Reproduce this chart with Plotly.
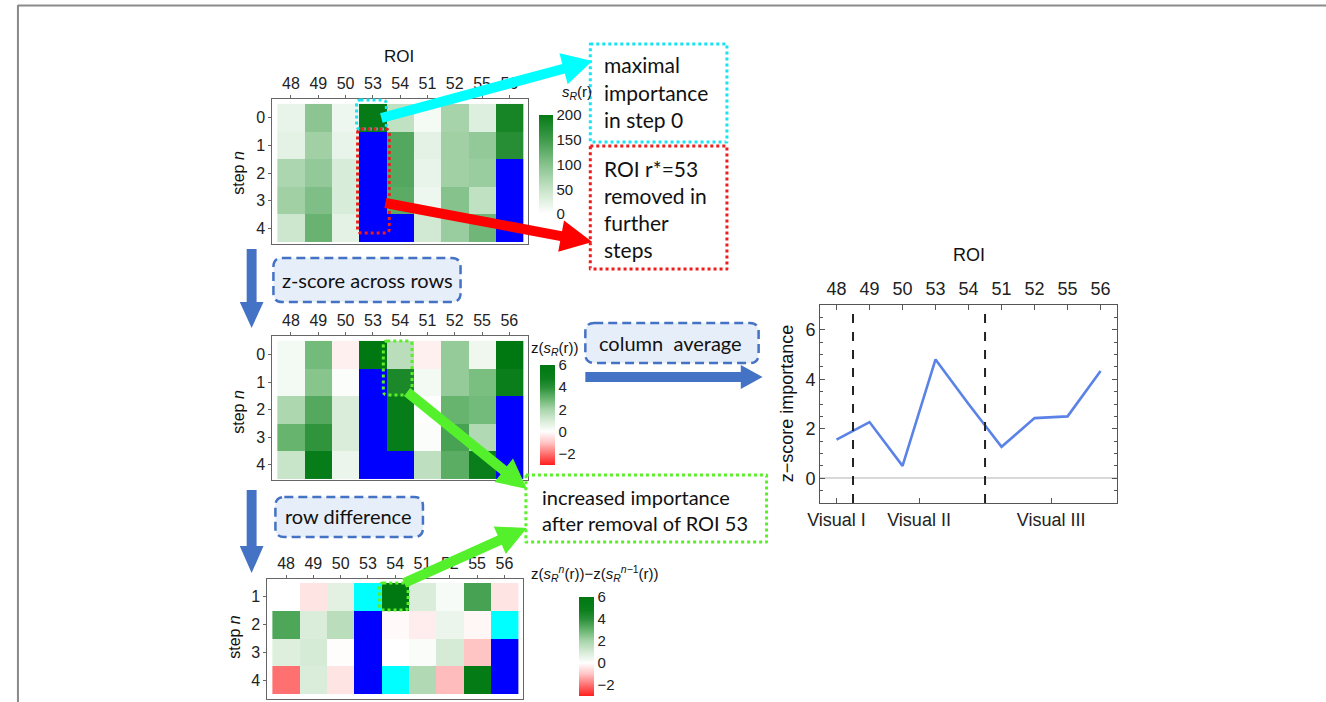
import math
import plotly.graph_objects as go

W, H = 1326, 702

# ---------------- data ----------------
rois = ["48", "49", "50", "53", "54", "51", "52", "55", "56"]
steps_top = [0, 1, 2, 3, 4]
steps_diff = [1, 2, 3, 4]

# importance s_R(r) per step (None = ROI removed)
sr_step0 = [20, 95, 15, 200, 55, 10, 75, 30, 185]
sr_step1 = [25, 80, 20, None, 135, 25, 80, 90, 170]
sr_step2 = [70, 90, 35, None, 135, 20, 80, 85, None]
sr_step3 = [80, 105, 35, None, 130, 15, 100, 55, None]
sr_step4 = [45, 120, 25, None, None, 40, 85, 115, None]

# z-scored importance per step
z_step0 = [0.3, 2.8, -0.25, 6.0, 1.6, -0.25, 2.3, 0.4, 6.0]
z_step1 = [0.3, 2.5, 0.1, None, 4.4, 0.3, 2.3, 2.7, 4.9]
z_step2 = [1.9, 3.3, 0.9, None, 5.2, 0.05, 3.0, 2.8, None]
z_step3 = [3.0, 3.9, 0.9, None, 5.2, 0.1, 3.5, 1.8, None]
z_step4 = [1.3, 5.2, 0.5, None, None, 1.5, 3.2, 4.9, None]

# row difference z(s^n) - z(s^(n-1))
d_step1 = [0.0, -0.45, 0.7, None, 6.0, 0.9, 0.2, 3.5, -0.45]
d_step2 = [3.4, 0.9, 1.6, None, -0.1, -0.3, 0.5, -0.15, None]
d_step3 = [0.8, 1.0, -0.05, None, 0.0, 0.15, 1.0, -1.0, None]
d_step4 = [-2.0, 0.9, -0.45, None, None, 1.8, -1.1, 5.5, None]

# column average of z-scores
zscore_importance = [1.56, 2.27, 0.5, 4.8, 3.0, 1.27, 2.43, 2.5, 4.33]
region_labels = ["Visual I", "Visual II", "Visual III"]
region_ticks = [0, 2.5, 6.5]
region_bounds = [0.5, 4.5]

sr = [sr_step0, sr_step1, sr_step2, sr_step3, sr_step4]
zs = [z_step0, z_step1, z_step2, z_step3, z_step4]
ds = [d_step1, d_step2, d_step3, d_step4]
cols = list(range(len(rois)))

# removed masks: 0 -> already removed (blue), 1 -> removed in this step (cyan)
mask_top = [[0 if v is None else None for v in row] for row in sr]
mask_mid = [[0 if v is None else None for v in row] for row in zs]
mask_diff = []
for n in range(1, len(zs)):
    row = []
    for j in cols:
        if zs[n][j] is None and zs[n - 1][j] is not None:
            row.append(1)
        elif zs[n][j] is None:
            row.append(0)
        else:
            row.append(None)
    mask_diff.append(row)

# ---------------- helpers ----------------
def px(x):
    return x / W

def py(y):
    return 1 - y / H

FONT = "Liberation Sans"
TFONT = "Lato"

SR_SCALE = [[0, "#ffffff"], [0.25, "#c6e4c8"], [0.5, "#86c28c"],
            [0.75, "#3f9b4b"], [1, "#067a16"]]
Z_SCALE = [[0, "#ff1e1e"], [1 / 9, "#ff7070"], [2 / 9, "#ffc4c4"],
           [3 / 9, "#ffffff"], [4 / 9, "#d6ebd6"], [5 / 9, "#a8d5aa"],
           [6 / 9, "#66b46e"], [7 / 9, "#2a9038"], [7.8 / 9, "#0b7f1c"],
           [1, "#007812"]]
BLUE_SCALE = [[0, "#0000ff"], [0.5, "#0000ff"], [0.5, "#00ffff"], [1, "#00ffff"]]

fig = go.Figure()

def colorbar(xl, yc, ln, th, tv, tt):
    return dict(x=px(xl), xanchor="left", y=py(yc), yanchor="middle",
                len=ln, lenmode="pixels", thickness=th, thicknessmode="pixels",
                xpad=0, ypad=0, outlinewidth=0, ticks="",
                tickvals=tv, ticktext=tt,
                tickfont=dict(family=FONT, size=15, color="#222"))

zt = [-2, 0, 2, 4, 6]
ztt = ["\u22122", "0", "2", "4", "6"]

# top heatmap
fig.add_trace(go.Heatmap(z=sr, x=cols, y=steps_top, colorscale=SR_SCALE,
                         zmin=0, zmax=200, xaxis="x", yaxis="y",
                         colorbar=colorbar(531, 164.5, 99, 14,
                                           [0, 50, 100, 150, 200],
                                           ["0", "50", "100", "150", "200"]),
                         hoverinfo="skip"))
fig.add_trace(go.Heatmap(z=mask_top, x=cols, y=steps_top, colorscale=BLUE_SCALE,
                         zmin=0, zmax=1, showscale=False, xaxis="x", yaxis="y",
                         hoverinfo="skip"))
# middle heatmap
fig.add_trace(go.Heatmap(z=zs, x=cols, y=steps_top, colorscale=Z_SCALE,
                         zmin=-3, zmax=6, xaxis="x2", yaxis="y2",
                         colorbar=colorbar(532, 415, 100, 15, zt, ztt),
                         hoverinfo="skip"))
fig.add_trace(go.Heatmap(z=mask_mid, x=cols, y=steps_top, colorscale=BLUE_SCALE,
                         zmin=0, zmax=1, showscale=False, xaxis="x2", yaxis="y2",
                         hoverinfo="skip"))
# bottom heatmap
fig.add_trace(go.Heatmap(z=ds, x=cols, y=steps_diff, colorscale=Z_SCALE,
                         zmin=-3, zmax=6, xaxis="x3", yaxis="y3",
                         colorbar=colorbar(572, 646.5, 99, 15, zt, ztt),
                         hoverinfo="skip"))
fig.add_trace(go.Heatmap(z=mask_diff, x=cols, y=steps_diff, colorscale=BLUE_SCALE,
                         zmin=0, zmax=1, showscale=False, xaxis="x3", yaxis="y3",
                         hoverinfo="skip"))

# line chart
fig.add_trace(go.Scatter(x=cols, y=zscore_importance, mode="lines",
                         line=dict(color="#5b82e6", width=2.6),
                         xaxis="x4", yaxis="y4", hoverinfo="skip"))
fig.add_trace(go.Scatter(x=cols, y=[None] * len(cols), mode="lines",
                         xaxis="x5", yaxis="y4", hoverinfo="skip", showlegend=False))

def hm_x(x0, x1, anchor, rng):
    return dict(domain=[px(x0), px(x1)], range=rng, side="top",
                tickmode="array", tickvals=cols, ticktext=rois,
                ticks="outside", ticklen=3, tickcolor="#666",
                showline=True, linecolor="#666", linewidth=1, mirror=True,
                showgrid=False, zeroline=False, anchor=anchor,
                tickfont=dict(family=FONT, size=16, color="#222"))

def hm_y(y0, y1, anchor, rng, vals):
    return dict(domain=[py(y1), py(y0)], range=rng,
                tickmode="array", tickvals=vals,
                ticks="outside", ticklen=3, tickcolor="#666",
                showline=True, linecolor="#666", linewidth=1, mirror=True,
                showgrid=False, zeroline=False, anchor=anchor,
                tickfont=dict(family=FONT, size=16, color="#222"))

layout = dict(
    width=W, height=H, margin=dict(l=0, r=0, t=0, b=0),
    paper_bgcolor="white", plot_bgcolor="white", showlegend=False,
    xaxis=hm_x(262, 520, "y", [-0.68, 8.68]),
    yaxis=hm_y(99, 244, "x", [4.57, -0.68], steps_top),
    xaxis2=hm_x(262, 520, "y2", [-0.68, 8.68]),
    yaxis2=hm_y(336, 480, "x2", [4.55, -0.68], steps_top),
    xaxis3=hm_x(257, 515, "y3", [-0.68, 8.68]),
    yaxis3=hm_y(579, 699, "x3", [4.68, 0.356], steps_diff),
    xaxis4=dict(domain=[px(815), px(1115)], range=[-0.5, 8.5], anchor="y4",
                tickmode="array", tickvals=region_ticks, ticktext=region_labels,
                ticks="inside", ticklen=5, tickcolor="#555",
                showline=True, linecolor="#555", linewidth=1, mirror=True,
                showgrid=False, zeroline=False,
                tickfont=dict(family=FONT, size=18, color="#222")),
    xaxis5=dict(overlaying="x4", side="top", range=[-0.5, 8.5], anchor="y4",
                tickmode="array", tickvals=cols, ticktext=rois,
                ticks="inside", ticklen=5, tickcolor="#555", ticklabelstandoff=5,
                showline=False, showgrid=False, zeroline=False,
                tickfont=dict(family=FONT, size=18, color="#222")),
    yaxis4=dict(domain=[py(503), py(305)], range=[-1, 7], anchor="x4",
                tickmode="array", tickvals=[0, 2, 4, 6],
                ticks="inside", ticklen=5, tickcolor="#555",
                minor=dict(ticks="inside", ticklen=3, dtick=0.5, tickcolor="#555"),
                showline=True, linecolor="#555", linewidth=1, mirror="ticks",
                showgrid=False, zeroline=True, zerolinecolor="#d8d8d8",
                zerolinewidth=1.5,
                tickfont=dict(family=FONT, size=18, color="#222")),
)
fig.update_layout(**layout)

shapes = []
annos = []

def P(x, y):
    return f"{px(x):.5f},{py(y):.5f}"

def arrow(x0, y0, x1, y1, sw, hw, hl, color):
    dx, dy = x1 - x0, y1 - y0
    L = math.hypot(dx, dy)
    ux, uy = dx / L, dy / L
    nx, ny = -uy, ux
    bx, by = x1 - ux * hl, y1 - uy * hl
    pts = [(x0 + nx * sw / 2, y0 + ny * sw / 2), (bx + nx * sw / 2, by + ny * sw / 2),
           (bx + nx * hw / 2, by + ny * hw / 2), (x1, y1),
           (bx - nx * hw / 2, by - ny * hw / 2), (bx - nx * sw / 2, by - ny * sw / 2),
           (x0 - nx * sw / 2, y0 - ny * sw / 2)]
    path = "M " + " L ".join(P(a, b) for a, b in pts) + " Z"
    shapes.append(dict(type="path", path=path, xref="paper", yref="paper",
                       fillcolor=color, line=dict(width=0), layer="above"))

def rrect(x0, y0, x1, y1, r, line, fill=None, dash="dot", width=3):
    path = (f"M {P(x0 + r, y0)} L {P(x1 - r, y0)} Q {P(x1, y0)} {P(x1, y0 + r)} "
            f"L {P(x1, y1 - r)} Q {P(x1, y1)} {P(x1 - r, y1)} "
            f"L {P(x0 + r, y1)} Q {P(x0, y1)} {P(x0, y1 - r)} "
            f"L {P(x0, y0 + r)} Q {P(x0, y0)} {P(x0 + r, y0)} Z")
    d = dict(type="path", path=path, xref="paper", yref="paper",
             line=dict(color=line, width=width, dash=dash), layer="above")
    d["fillcolor"] = fill if fill else "rgba(0,0,0,0)"
    shapes.append(d)

def text(x, y, s, size=21, family=TFONT, xanchor="left", angle=0, color="#111"):
    annos.append(dict(x=px(x), y=py(y), xref="paper", yref="paper", text=s,
                      showarrow=False, xanchor=xanchor, yanchor="middle",
                      textangle=angle, borderpad=0,
                      font=dict(family=family, size=size, color=color)))

# outer border
shapes.append(dict(type="line", xref="paper", yref="paper", x0=px(5), y0=py(5.5),
                   x1=px(1326), y1=py(5.5), line=dict(color="#8a8a8a", width=2)))
shapes.append(dict(type="line", xref="paper", yref="paper", x0=px(5), y0=py(5),
                   x1=px(5), y1=py(702), line=dict(color="#8a8a8a", width=2)))

# region boundaries in line chart
for b in region_bounds:
    shapes.append(dict(type="line", xref="x4", yref="y4 domain", x0=b, x1=b,
                       y0=0, y1=1, line=dict(color="#222", width=2, dash="dash")))

# blue flow arrows
BLUE = "#4472c4"
arrow(241, 249, 241, 328, 10, 24, 26, BLUE)
arrow(241, 490, 241, 573, 10, 24, 27, BLUE)
arrow(578, 377, 757, 377, 10, 24, 22, BLUE)

# dashed rounded label boxes
LB = "#e6eef9"
rrect(263, 258, 452, 302, 9, BLUE, LB, dash="9px,5px", width=2.5)
rrect(578, 323, 753, 363, 9, BLUE, LB, dash="9px,5px", width=2.5)
rrect(265, 497, 414, 537, 9, BLUE, LB, dash="9px,5px", width=2.5)
text(358, 280, "z-score across rows", size=20, xanchor="center")
text(664, 343, "column\u00a0\u00a0average", size=20, xanchor="center")
text(339, 516, "row difference", size=20, xanchor="center")

# dotted callout boxes
CY, RD, GR = "#16e4f2", "#ee1c1c", "#5bef2a"
rrect(583, 44, 721, 142, 0.01, CY)
rrect(583, 146, 721, 269, 0.01, RD)
rrect(518, 475, 761, 542, 0.01, GR)
rrect(347, 100, 377, 129, 4, CY)
rrect(348, 129, 380, 233, 4, RD)
rrect(374, 341, 403, 395, 4, GR)
rrect(370, 583, 399, 610, 4, GR)

# callout arrows
arrow(372, 118, 585, 61, 10, 32, 30, "#00ffff")
arrow(376, 203, 585, 242, 10, 32, 32, "#ff0000")
arrow(398, 392, 519, 489, 10, 30, 30, "#55f02c")
arrow(395, 583, 519, 528, 10, 30, 30, "#55f02c")

for i, s in enumerate(["maximal", "importance", "in step 0"]):
    text(596, 65 + 27 * i, s)
for i, s in enumerate(["ROI r*=53", "removed in", "further", "steps"]):
    text(596, 168 + 27 * i, s)
for i, s in enumerate(["increased importance", "after removal of ROI 53"]):
    text(533, 497 + 26 * i, s, size=20)

# axis / colorbar titles
text(390, 56, "ROI", size=17, family=FONT, xanchor="center")
text(965, 255, "ROI", size=18, family=FONT, xanchor="center")
text(782, 403, "z\u2212score importance", size=18, family=FONT, xanchor="center", angle=-90)
text(228, 173, "step <i>n</i>", size=16, family=FONT, xanchor="center", angle=-90)
text(228, 412, "step <i>n</i>", size=16, family=FONT, xanchor="center", angle=-90)
text(223, 637, "step <i>n</i>", size=16, family=FONT, xanchor="center", angle=-90)
text(553, 92, "<i>s</i><sub><i>R</i></sub>(r)", size=15, family=FONT)
text(522, 349, "z(<i>s</i><sub><i>R</i></sub>(r))", size=15, family=FONT)
text(522, 573, "z(<i>s</i><sub><i>R</i></sub><sup><i>n</i></sup>(r))\u2212z(<i>s</i><sub><i>R</i></sub><sup><i>n</i>\u22121</sup>(r))",
     size=15, family=FONT)

fig.update_layout(shapes=shapes, annotations=annos)
fig.write_html("out.html", config={"displayModeBar": False},
               post_script="document.body.style.margin='0';document.body.style.overflow='hidden';")
